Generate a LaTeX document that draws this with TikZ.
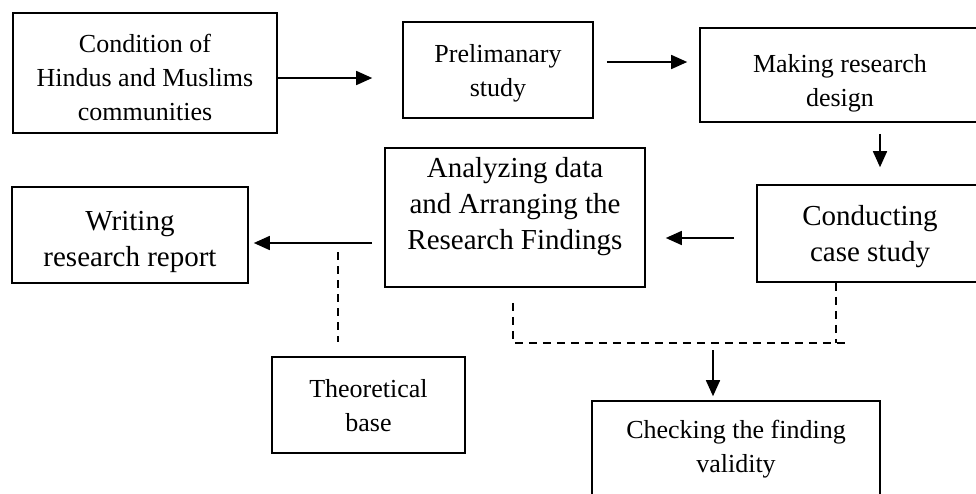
\documentclass[tikz,border=0pt]{standalone}
\usepackage{fontspec}
\setmainfont{Liberation Serif}
\usetikzlibrary{arrows.meta}
\usetikzlibrary{positioning}
% box text: height, width, first baseline from top, lines
\newcommand{\boxtext}[4]{\parbox[c][#1][t]{#2}{\centering\rule{0pt}{#3}#4}}

\begin{document}
\begin{tikzpicture}[x=1pt,y=-1pt,>={Triangle[length=16pt,width=14pt]},line width=1.6pt]
	\tikzstyle{box}=[draw, rectangle, inner sep=0pt, font=\fontsize{26}{34}\selectfont]
	\tikzstyle{bigbox}=[box, font=\fontsize{29}{36}\selectfont]
	\tikzstyle{flow}=[->]
	\tikzstyle{link}=[dash pattern=on 8pt off 6pt, line width=1.4pt]
	\useasboundingbox (0,0) rectangle (976,493);
		\node[box] (cond) at (145,73) {\boxtext{120pt}{264pt}{39pt}{Condition of\\Hindus and Muslims\\communities}};
		\node[box] (prel) at (498,70) {\boxtext{96pt}{190pt}{40pt}{Prelimanary\\study}};
		\node[box] (make) at (840,75) {\boxtext{94pt}{280pt}{44pt}{Making research\\design}};
		\node[bigbox] (case) at (870,233.5) {\boxtext{97pt}{226pt}{40pt}{Conducting\\case study}};
		\node[bigbox] (anal) at (515,217.5) {\boxtext{139pt}{260pt}{29pt}{Analyzing data\\and Arranging the\\Research Findings}};
		\node[bigbox] (writ) at (130,235) {\boxtext{96pt}{236pt}{43pt}{Writing\\research report}};
		\node[box] (theo) at (368.5,405) {\boxtext{96pt}{193pt}{40pt}{Theoretical\\base}};
		\node[box] (check) at (736,449) {\boxtext{96pt}{288pt}{37pt}{Checking the finding\\validity}};
	% joints of the dashed lines
		\coordinate (gjoin) at (338,243);
		\coordinate (ejoin) at (513,343);
		\coordinate (djoin) at (836,343);
		\coordinate (hjoin) at (713,343);
		\coordinate (rend) at (848,343);
	% main flow
		\draw[flow, shorten >=30pt] (cond.east |- 0,78) -- (prel.west |- 0,78);
		\draw[flow, shorten <=13pt, shorten >=12pt] (prel.east |- 0,62) -- (make.west |- 0,62);
		\draw[flow, shorten <=11pt, shorten >=17pt] (make.south -| 880,0) -- (case.north -| 880,0);
		\draw[flow, shorten <=22pt, shorten >=20pt] (case.west |- 0,238) -- (anal.east |- 0,238);
		\draw[flow, shorten <=12pt, shorten >=5pt] (anal.west |- gjoin) -- (writ.east |- gjoin);
	% dashed links
		\draw[link, shorten <=9pt, shorten >=14pt] (gjoin) -- (theo.north -| gjoin);
		\draw[link, shorten <=15pt] (anal.south -| ejoin) -- (ejoin) -- (rend);
		\draw[link] (case.south -| djoin) -- (djoin);
		\draw[flow, shorten <=7pt, shorten >=4pt] (hjoin) -- (check.north -| hjoin);
\end{tikzpicture}
\end{document}
